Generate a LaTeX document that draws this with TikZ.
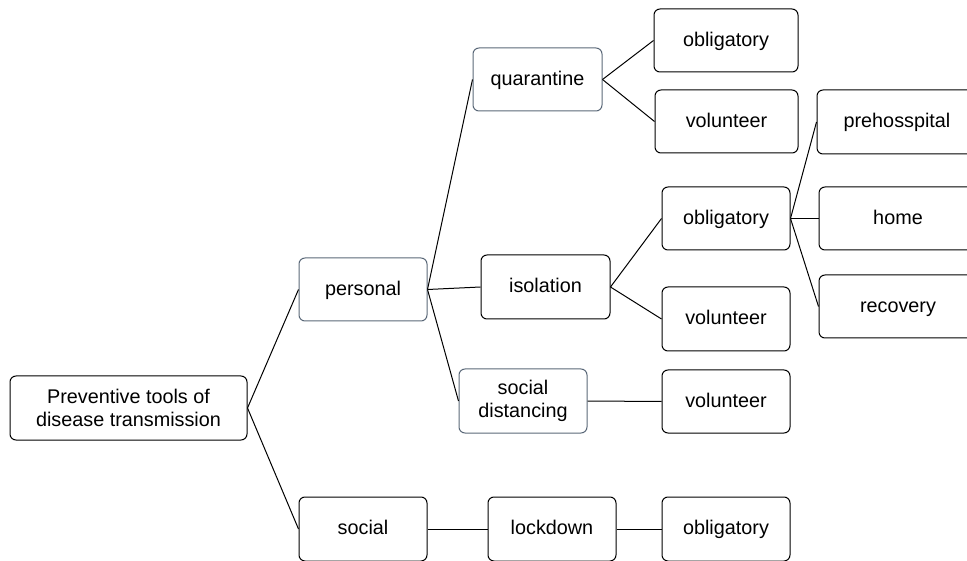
\documentclass[tikz,border=0pt]{standalone}
\usepackage{fontspec}
\setmainfont{Liberation Sans}
\usepackage{xcolor}
\usepackage{tikz}
\usetikzlibrary{positioning}

\definecolor{slateline}{HTML}{5A6878}

\begin{document}
\begin{tikzpicture}[x=1pt, y=-1pt,
    box/.style={draw, rounded corners=6pt, line width=1pt, minimum height=63pt,
        minimum width=128pt, align=center, inner sep=2pt,
        font=\fontsize{19.8}{23}\selectfont},
    word/.style={box, text height=1.35em, text depth=0.21em},
    softbox/.style={draw=slateline},
    link/.style={line width=1pt}]
\useasboundingbox (0,0) rectangle (967,561);

\node[box, minimum width=237pt, minimum height=64pt] (root) at (128.5,408) {Preventive tools of\\disease transmission};

\node[word, softbox] (personal) at (363,289.5) {personal};
\node[word, minimum height=64pt] (social) at (363,529) {social};

\node[word, softbox, minimum width=129pt] (quarantine) at (537.5,79.5) {quarantine};
\node[word, minimum width=129pt, minimum height=64pt] (isolation) at (545.5,287) {isolation};
\node[box, softbox, minimum height=64pt] (distancing) at (523,401) {social\\distancing};
\node[word, minimum height=64pt] (lockdown) at (552,529) {lockdown};

\node[word, minimum width=144pt] (q_oblig) at (726,40.5) {obligatory};
\node[word, minimum width=143pt] (q_volun) at (726.5,121.5) {volunteer};
\node[word] (i_oblig) at (726,218.5) {obligatory};
\node[word, minimum height=64pt] (i_volun) at (726,319) {volunteer};
\node[word] (d_volun) at (726,401.5) {volunteer};
\node[word, minimum height=64pt] (l_oblig) at (726,529) {obligatory};

\node[word, minimum width=160pt, minimum height=64pt] (prehosp) at (897,122) {prehosspital};
\node[word, minimum width=158pt] (home) at (898,218.5) {home};
\node[word, minimum width=158pt] (recovery) at (898,306.5) {recovery};

% first level
\draw[link] (root.east) -- (personal.west);
\draw[link] (root.east) -- (social.west);

% second level
\draw[link] (personal.east) -- (quarantine.west);
\draw[link] (personal.east) -- (isolation.west);
\draw[link] (personal.east) -- (distancing.west);
\draw[link] (social.east) -- (lockdown.west);

% third level
\draw[link] (quarantine.east) -- (q_oblig.west);
\draw[link] (quarantine.east) -- (q_volun.west);
\draw[link] (isolation.east) -- (i_oblig.west);
\draw[link] (isolation.east) -- (i_volun.west);
\draw[link] (distancing.east) -- (d_volun.west);
\draw[link] (lockdown.east) -- (l_oblig.west);

% obligatory isolation
\draw[link] (i_oblig.east) -- (prehosp.west);
\draw[link] (i_oblig.east) -- (home.west);
\draw[link] (i_oblig.east) -- (recovery.west);

\end{tikzpicture}
\end{document}
